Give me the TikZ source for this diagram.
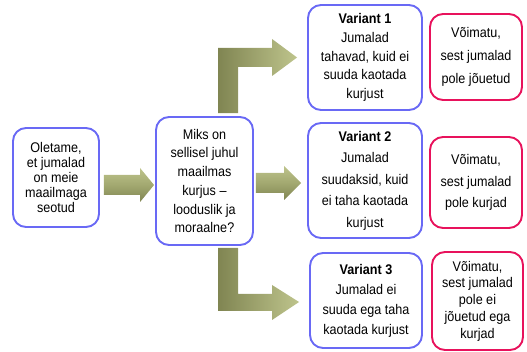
\documentclass[tikz,border=0pt]{standalone}
\usepackage{fontspec}
\setmainfont{Liberation Sans}[FakeStretch=0.9]
\usepackage{tikz}
\usetikzlibrary{calc}
\definecolor{boxblue}{RGB}{105,105,245}
\definecolor{boxred}{RGB}{232,18,92}
\definecolor{olivedark}{RGB}{128,133,82}
\definecolor{olivemid}{RGB}{162,168,112}
\definecolor{olivelight}{RGB}{190,196,140}
\tikzset{
  bluebox/.style={draw=boxblue, line width=1.9pt, rounded corners=13pt, fill=white, align=center, inner sep=2pt},
  redbox/.style={bluebox, draw=boxred},
  straightfill/.style={top color=olivelight, bottom color=olivedark, middle color=olivemid, draw=none},
  elbowfill/.style={left color=olivedark, right color=olivelight, draw=none},
}
\newcommand{\txt}[1]{\fontsize{14}{#1}\selectfont}

\begin{document}
\begin{tikzpicture}[x=1pt, y=-1pt, line join=round]
      \useasboundingbox (0,0) rectangle (527,352);
      % left and middle
      \node[bluebox, minimum width=86pt, minimum height=99pt, font=\txt{15}] (ole) at (56,177.5) {Oletame,\\et jumalad\\on meie\\maailmaga\\seotud};
      \node[bluebox, minimum width=97pt, minimum height=128pt, font=\txt{18.7}] (miks) at (204.5,181) {Miks on\\sellisel juhul\\maailmas\\kurjus --\\looduslik ja\\moraalne?};
      % variants
      \node[bluebox, minimum width=114pt, minimum height=105pt, font=\txt{18.7}] (var1) at (365,57.5) {\textbf{Variant 1}\\Jumalad\\tahavad, kuid ei\\suuda kaotada\\kurjust};
      \node[bluebox, minimum width=114pt, minimum height=115pt, font=\txt{21.5}] (var2) at (365,180.5) {\textbf{Variant 2}\\Jumalad\\suudaksid, kuid\\ei taha kaotada\\kurjust};
      \node[bluebox, minimum width=112pt, minimum height=95pt, font=\txt{20}] (var3) at (366,300.5) {\textbf{Variant 3}\\Jumalad ei\\suuda ega taha\\kaotada kurjust};
      % answers
      \node[redbox, minimum width=92pt, minimum height=86pt, font=\txt{23}] (vom1) at (476,57) {Võimatu,\\sest jumalad\\pole jõuetud};
      \node[redbox, minimum width=92pt, minimum height=91pt, font=\txt{21.5}] (vom2) at (476,182.5) {Võimatu,\\sest jumalad\\pole kurjad};
      \node[redbox, minimum width=91pt, minimum height=98pt, font=\txt{16.7}] (vom3) at (477.5,301) {Võimatu,\\sest jumalad\\pole ei\\jõuetud ega\\kurjad};
      % arrow ends
      \coordinate (s1) at ([shift={(4,7.5)}]ole.east);
      \coordinate (e1) at ([xshift=-1pt]miks.west |- s1);
      \coordinate (s2) at ([shift={(2,2)}]miks.east);
      \coordinate (e2) at ([xshift=-6pt]var2.west |- s2);
      \coordinate (s3) at ([xshift=23.5pt, yshift=3pt]miks.north);
      \coordinate (e3) at ([xshift=-10pt]var1.west);
      \coordinate (s4) at ([xshift=23.5pt, yshift=-2pt]miks.south);
      \coordinate (e4) at ([xshift=-10pt, yshift=-1.5pt]var3.west);
      % straight arrows
      \path[straightfill] let \p1=(s1), \p2=(e1) in (\x1,\y1+10pt) -- (\x2-14pt,\y1+10pt) -- (\x2-14pt,\y1+17pt) -- (\x2,\y1) -- (\x2-14pt,\y1-17pt) -- (\x2-14pt,\y1-10pt) -- (\x1,\y1-10pt) -- cycle;
      \path[straightfill] let \p1=(s2), \p2=(e2) in (\x1,\y1+10pt) -- (\x2-17pt,\y1+10pt) -- (\x2-17pt,\y1+17pt) -- (\x2,\y1) -- (\x2-17pt,\y1-17pt) -- (\x2-17pt,\y1-10pt) -- (\x1,\y1-10pt) -- cycle;
      % elbow arrows
      \path[elbowfill] let \p1=(s3), \p2=(e3) in (\x1-10pt,\y1) -- (\x1-10pt,\y2+9.5pt) -- (\x2-25pt,\y2+9.5pt) -- (\x2-25pt,\y2+18.5pt) -- (\x2,\y2) -- (\x2-25pt,\y2-18.5pt) -- (\x2-25pt,\y2-9.5pt) -- (\x1+10pt,\y2-9.5pt) -- (\x1+10pt,\y1) -- cycle;
      \path[elbowfill] let \p1=(s4), \p2=(e4) in (\x1-10pt,\y1) -- (\x1-10pt,\y2-9pt) -- (\x2-27pt,\y2-9pt) -- (\x2-27pt,\y2-18pt) -- (\x2,\y2) -- (\x2-27pt,\y2+17pt) -- (\x2-27pt,\y2+8pt) -- (\x1+10pt,\y2+8pt) -- (\x1+10pt,\y1) -- cycle;
    \end{tikzpicture}
\end{document}
